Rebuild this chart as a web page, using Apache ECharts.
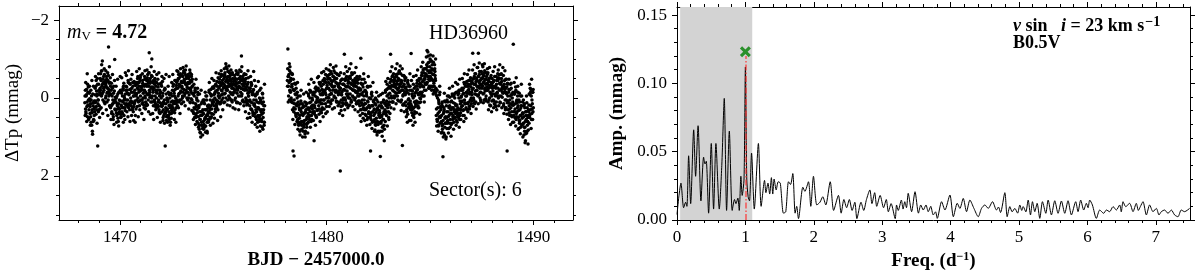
<!DOCTYPE html>
<html><head><meta charset="utf-8">
<script src="https://cdn.jsdelivr.net/npm/echarts@6/dist/echarts.min.js"></script>
<style>html,body{margin:0;padding:0;background:#fff}#c{width:1200px;height:280px}</style>
</head><body><div id="c"></div>
<script>
// ---------- Light curve (values in 0.01 mmag), three interleaved cadence sets per segment ----------
const seg1Start = 1468.30, seg1End = 1477.00;
const seg1Vals = [
12,-20,35,-8,22,48,-15,5,30,-30,
40,15,62,-5,30,93,20,55,8,35,
-25,10,-45,30,-10,123,5,-35,20,-15,
-50,-10,-69,-30,-95,5,-40,-20,-60,15,
-35,-5,-55,10,-25,-45,-131,-15,20,-40,
25,-20,40,-5,15,55,-30,10,-99,30,
30,0,45,20,-10,60,25,5,40,-20,
-15,20,35,-5,10,-30,45,0,25,-10,
-30,15,-20,5,-45,25,-10,30,-35,0,
20,-25,10,-40,35,-5,15,-20,45,-10,
-40,5,-25,-55,10,-30,20,-45,-5,-20,
-30,15,-45,0,-20,25,-55,-5,10,-35,
-45,-10,-60,5,-30,-116,-15,-50,10,-25,
-100,-5,-40,20,-25,5,-50,15,-30,0,
25,-20,10,-35,30,-5,40,-15,20,-30,
35,-5,50,15,-20,40,123,25,-10,30,
45,10,-15,35,55,0,25,-10,40,20,
-20,25,-35,10,-5,30,-45,15,-25,5,
-45,-5,-60,10,-30,-55,-15,5,-40,-25,
-55,-15,-70,-5,-40,-60,-20,-50,0,-35,
-40,0,-55,-25,10,-45,-15,-60,5,-30,
35,-10,25,50,-20,15,45,0,30,-15,
65,20,80,35,55,100,15,45,70,30,
60,10,75,30,50,-5,45,85,20,55,
35,-15,25,50,-10,20,40,-25,15,5,
-25,20,-10,35,-35,5,25,-20,10,-5,
-40,0,-30,15,-55,-20,5,-45,-10,-25,
-50,-10,-65,-30,0,-45,-75,-20,-55,-5,
-45,0,-35,-60,-10,-30,10,-50,-25,-15,
-35,5,-50,-20,-40,10,-25,-60,-5,-30,
-40,-5,-55,-25,-108,-10,-45,5,-30,-60,
-35,10,-25,-50,5,-20,15,-40,-5,-15,
20,-25,10,-40,30,-10,35,-20,5,15,
40,-5,30,55,10,-15,45,25,60,0,
45,5,35,60,15,-10,50,30,70,20
];
const seg1ValsB = [
-5,28,40,-22,10,-35,18,55,-12,2,
22,48,5,70,38,-10,60,28,45,12,
8,-30,22,-5,-50,15,35,-20,-8,28,
-20,-45,-5,-70,-35,-15,-55,10,-28,-42,
0,-30,-48,-12,-65,5,-22,-38,-8,-52,
-10,20,35,-25,5,48,12,-18,28,-2,
10,38,-5,28,52,15,-15,35,8,42,
18,-12,8,40,-25,25,-5,15,32,-20,
5,-28,-12,22,-40,-8,18,-22,10,-48,
-15,12,30,-30,-5,22,-38,8,-12,28,
-10,-35,-50,0,-22,-40,8,-18,-58,-28,
-22,5,-38,-12,18,-30,-48,0,-15,20,
-30,-52,-8,-38,-65,-20,-2,-42,-28,-58,
10,-28,-15,-45,8,-35,-5,22,-20,-40,
-12,18,-28,5,35,-20,12,-38,0,22,
20,-12,30,45,5,-25,38,15,58,0,
28,5,50,20,-8,40,62,10,32,-5,
8,-30,15,-12,38,-22,0,25,-40,10,
-25,-50,-10,-35,5,-62,-18,-42,-30,0,
-40,-65,-22,-48,-10,-72,-35,-55,-28,-15,
-25,-50,-8,-38,-65,-20,2,-42,-30,-12,
12,40,-5,28,-25,50,20,5,38,-8,
48,25,70,55,90,35,62,10,78,42,
40,68,15,52,88,30,5,62,45,25,
18,-20,38,5,52,-5,28,10,-28,42,
10,-30,0,28,-18,15,-42,8,30,-12,
-25,-48,-5,-32,10,-60,-18,-38,0,-28,
-35,-60,-12,-42,-80,-25,-50,5,-38,-68,
-30,-55,-15,5,-42,-25,-65,-8,-35,-48,
-22,-45,0,-30,-62,-12,-38,12,-28,-50,
-28,-50,-15,-68,-5,-35,-48,-22,10,-40,
-20,-42,0,-28,18,-35,-12,-52,8,-25,
5,-18,28,-32,12,-8,40,-22,18,-45,
22,48,5,35,-10,62,28,12,50,-20,
30,55,10,42,75,0,38,20,62,8
];
const seg1ValsC = [
45,-40,-5,60,-62,20,-28,52,-15,8,
70,-20,38,-45,85,12,-30,58,25,-8,
-55,42,-18,65,-35,5,-62,30,50,-25,
-62,25,-85,-10,40,-48,-25,-75,10,-38,
-70,30,-42,-15,45,-58,-5,-80,22,-30,
55,-38,18,-60,42,-12,68,-45,5,30,
-30,62,15,-48,40,72,-15,28,-55,50,
48,-52,25,-20,62,-38,5,55,-65,18,
-58,35,-12,48,-70,15,-38,60,-22,8,
45,-60,25,-15,58,-42,12,62,-32,-5,
-68,22,-40,48,-15,-75,30,-52,5,-28,
40,-62,12,-35,55,-20,-70,28,-48,15,
-72,18,-45,35,-65,-8,-38,42,-80,0,
-55,40,-20,55,-68,10,-42,30,-15,-60,
50,-48,22,-65,38,-10,62,-35,15,-55,
-42,58,10,-50,65,-22,35,-60,48,5,
62,-30,45,-55,18,70,-12,52,-40,28,
-60,35,-18,55,-45,8,62,-32,-70,20,
-68,25,-50,-12,40,-75,-30,15,-58,-5,
-78,10,-45,-65,20,-35,-82,-15,-55,5,
-60,28,-40,-72,12,-25,-55,32,-48,-10,
55,-35,40,-15,68,-48,22,60,-25,8,
75,20,-10,88,45,-20,70,35,95,5,
80,5,55,-15,72,30,-5,90,40,62,
58,-40,30,70,-22,48,-50,15,65,-8,
-45,52,-15,35,-65,20,-30,58,-52,10,
-62,15,-40,48,-70,-8,-35,30,-58,12,
-75,10,-55,-88,-20,-45,18,-68,-30,-82,
-65,20,-48,-72,5,-35,-60,25,-42,-15,
-58,28,-35,-70,12,-48,-20,-65,30,-40,
-72,15,-45,-25,-80,8,-55,-35,20,-62,
-48,35,-60,10,-30,52,-70,-5,40,-25,
50,-55,28,-35,62,-15,45,-68,18,-8,
68,-30,50,-10,75,25,-42,58,12,85,
72,-25,55,30,-12,80,10,62,-35,48
];
const seg2Start = 1478.10, seg2End = 1490.00;
const seg2Vals = [
-45,-126,-30,-60,5,-80,-15,-50,10,-35,
30,136,-20,149,15,-10,40,-25,20,0,
55,10,70,25,45,-5,65,35,80,15,
60,20,75,40,10,85,30,55,15,65,
40,-10,30,55,0,25,-15,45,20,5,
35,-15,110,20,-5,45,10,-20,30,0,
-25,20,-40,10,-10,35,-30,5,25,-15,
-35,5,-50,-20,15,-40,0,-25,-55,10,
-40,0,-60,-20,10,-45,-10,-30,5,-55,
-45,-5,-30,-65,0,-20,-50,10,-35,-15,
-30,15,-20,187,-45,5,-15,20,-35,0,
-35,-112,-20,5,-50,-10,15,-30,-45,0,
-40,0,-55,-25,10,-35,-60,-5,-20,-45,
-35,5,-50,-15,-30,10,-45,-5,-25,15,
-25,20,-10,-102,30,-35,5,-15,25,-5,
30,-20,15,45,-10,25,-30,10,40,0,
40,0,136,55,20,-5,35,60,10,30,
55,15,70,35,5,60,25,85,40,20,
50,150,65,20,45,75,10,55,35,80,
30,-15,20,45,-5,15,-25,35,0,10,
-40,-112,-30,0,-55,-20,10,-45,-5,-35,
-45,-5,-60,-25,-35,5,-50,-15,-70,-30,
-35,10,-45,-20,122,-5,-30,15,-55,-15,
-25,20,-15,35,-40,5,25,-10,15,-30,
30,-114,20,-10,45,0,25,-25,35,10,
-30,15,-20,-45,10,-10,25,-35,0,-15,
-50,-10,-65,-30,-5,-45,-75,-20,-55,-35,
-75,-35,-122,-55,-90,-25,-65,-45,-100,-30,
-65,-20,-85,-45,-10,-60,-30,-75,-50,-15,
45,-5,60,25,70,10,35,-15,50,30,
60,15,80,151,40,25,95,50,10,65,
50,5,65,35,-5,45,20,75,10,30,
40,-10,55,25,-5,35,0,50,20,-15,
35,-15,25,50,0,-20,45,15,30,-5,
-25,20,-10,30,-40,5,15,-30,25,-5,
-30,15,-20,-45,10,-10,20,-35,0,-15,
-40,-115,-25,5,-55,-10,-35,10,-50,-20,
-45,-5,-115,-30,-60,0,-35,-15,-50,-25,
-50,-10,-40,5,-65,-25,-35,-5,-55,-20,
-35,10,-25,-50,0,-15,20,-40,-5,-30,
-40,5,-30,15,-55,-10,-25,10,-45,-5,
-45,0,-60,-20,10,-35,-5,-50,-25,-15,
-30,20,-15,-45,5,-25,25,-10,136,-35,
30,-15,20,45,-5,15,-25,35,0,10,
-138,35,-10,50,15,-20,40,5,25,-15,
50,5,65,30,-5,45,20,70,10,40,
65,20,85,115,35,55,90,25,60,45,
35,-10,50,-25,20,-5,40,15,-15,25
];
const seg2ValsB = [
-30,-55,-5,-40,-70,-18,-45,0,-28,-62,
12,-22,35,5,-38,28,-8,48,15,-15,
40,65,18,52,85,30,8,60,42,25,
45,70,22,58,92,35,12,68,48,28,
25,-5,48,12,35,-18,60,22,0,38,
18,-8,40,25,-25,12,50,-2,32,8,
10,-18,28,-35,5,-8,38,-22,15,-45,
-20,5,-42,-15,-60,-8,22,-32,-48,-2,
-25,-50,-8,-35,-68,-12,5,-42,-28,-55,
-28,-2,-52,-20,-40,8,-62,-15,-35,-8,
-12,10,-38,-25,22,-8,-48,12,-20,5,
-22,-48,0,-30,12,-55,-18,-5,-38,20,
-28,-55,-10,-38,5,-65,-22,-45,-2,-30,
-20,-45,0,-30,15,-52,-12,-38,8,-25,
8,-20,30,-38,12,-8,40,-28,18,-48,
15,42,-18,28,-5,55,8,-28,35,20,
25,50,2,38,-15,62,20,8,45,28,
40,68,18,52,88,28,10,62,45,32,
38,62,12,48,85,25,55,5,70,40,
12,-20,38,8,-35,25,-8,50,18,-12,
-25,-48,-5,-32,10,-58,-18,-40,0,-28,
-30,-55,-12,-42,-5,-62,-25,-48,-15,-35,
-18,-42,5,-28,-58,-8,18,-35,-12,-50,
10,-28,30,-15,42,-35,2,22,-20,8,
15,-20,38,-5,28,-35,50,10,-12,22,
-15,8,-38,-22,20,-8,-45,12,-28,2,
-35,-58,-15,-42,-72,-28,-5,-50,-38,-62,
-60,-85,-40,-70,-108,-48,-30,-80,-55,-95,
-50,-75,-28,-60,-92,-38,-15,-68,-45,-25,
28,55,0,40,72,15,-8,48,22,62,
45,72,22,58,90,30,8,65,48,100,
35,60,10,48,78,22,-2,55,30,68,
25,-5,48,12,62,30,-12,40,18,58,
18,45,-8,30,-20,55,8,38,-2,22,
8,-20,32,-12,45,-35,15,-5,28,-42,
-12,12,-35,-22,22,-45,5,-28,15,-8,
-22,-48,0,-35,12,-62,-18,-42,-8,-30,
-28,-55,-8,-40,-68,-15,5,-48,-32,-62,
-30,-55,-12,-42,-70,-18,2,-48,-28,-60,
-20,-45,5,-32,18,-52,-10,-35,8,-25,
-18,-42,8,-28,-55,-5,22,-35,-12,-48,
-25,-52,-5,-38,12,-60,-20,-42,-2,-30,
-12,15,-35,-22,25,-48,5,-28,12,-5,
12,-22,38,5,-35,25,-8,48,18,-15,
18,45,-10,28,-28,55,8,35,-5,20,
32,58,10,45,75,20,-5,52,38,65,
48,75,25,60,92,35,12,70,50,82,
18,45,-8,30,-22,55,5,-15,35,12
];
const seg2ValsC = [
-75,10,-55,-88,-20,-45,-65,5,-30,-60,
55,-48,25,-20,68,-35,45,-10,60,-40,
80,-5,62,30,95,15,-20,70,42,100,
85,-10,65,38,100,20,-15,75,50,90,
62,-35,45,-20,75,10,-48,55,28,-8,
58,-40,35,-15,70,-28,48,5,-52,30,
-55,42,-18,60,-40,15,-65,30,-8,48,
-68,28,-45,-12,40,-75,-25,35,-58,8,
-72,22,-50,-85,15,-35,-62,28,-20,-78,
-70,25,-48,-15,-82,10,-38,-60,20,-28,
-58,40,-25,-65,32,-8,-48,45,-35,15,
-62,30,-45,-80,18,-28,-68,25,-10,-52,
-75,18,-50,-88,10,-35,-62,22,-42,-20,
-65,30,-40,-78,15,-55,-18,35,-48,-5,
-55,45,-22,60,-48,18,-35,52,-62,5,
58,-40,30,-15,70,-28,50,-55,20,38,
68,-30,45,-10,78,20,-40,60,5,85,
82,0,62,-15,95,30,68,-5,88,45,
85,-8,60,25,98,-12,72,40,110,15,
60,-42,35,-22,72,-50,18,55,-30,40,
-68,25,-45,-80,10,-30,-62,28,-52,-15,
-75,15,-55,-88,-22,-45,8,-68,-35,-82,
-62,32,-40,-75,18,-20,-58,35,-45,-8,
-52,48,-20,62,-45,15,-30,58,-62,25,
58,-45,30,-18,70,-55,42,-5,62,15,
-58,38,-30,-72,25,-12,-50,42,-38,10,
-80,-5,-58,-92,-30,-65,10,-48,-75,-20,
-105,-40,-80,-118,-55,-92,-25,-70,-110,-48,
-95,-30,-72,-108,-45,-20,-85,-58,-100,-8,
72,-20,55,85,5,48,-30,65,25,90,
88,10,68,100,35,-12,75,52,105,20,
78,-5,58,90,25,-25,65,40,98,8,
65,-30,45,80,-8,52,15,-40,70,30,
62,-35,40,-12,75,-48,28,55,-20,10,
-50,45,-25,60,-62,12,-38,52,-15,30,
-60,35,-30,-72,28,-15,-52,40,-42,8,
-72,22,-50,-85,15,-35,-62,28,-20,-78,
-78,15,-55,-90,-25,-45,10,-68,-35,-85,
-80,12,-58,-88,-22,-48,8,-65,-38,-75,
-65,30,-42,-78,20,-28,-58,35,-50,-10,
-68,25,-45,-80,18,-30,-55,30,-15,-62,
-72,20,-50,-85,12,-38,-62,25,-25,-78,
-58,40,-28,-70,30,-15,-48,42,-38,8,
55,-48,28,-22,68,-38,45,-10,62,18,
62,-40,35,-15,72,-52,48,12,-30,80,
78,-12,58,92,25,-35,68,40,100,5,
95,15,75,110,45,-5,85,60,118,30,
65,-35,42,-15,78,-48,28,55,-22,12
];

// ---------- Periodogram ----------
const freq = [0.000,0.058,0.097,0.126,0.145,0.170,0.200,0.244,0.272,0.308,0.350,0.389,0.410,0.428,0.462,0.501,0.535,0.569,0.618,0.655,0.691,0.725,0.765,0.807,0.841,0.862,0.890,0.910,0.934,0.953,0.980,1.000,1.020,1.040,1.060,1.090,1.130,1.190,1.230,1.280,1.300,1.330,1.355,1.380,1.400,1.420,1.450,1.480,1.510,1.556,1.590,1.630,1.660,1.693,1.727,1.750,1.776,1.840,1.870,1.922,1.956,1.995,2.044,2.090,2.131,2.175,2.240,2.290,2.360,2.400,2.440,2.480,2.520,2.560,2.600,2.630,2.690,2.730,2.770,2.820,2.850,2.890,2.920,2.970,3.020,3.060,3.090,3.130,3.190,3.210,3.235,3.280,3.305,3.330,3.355,3.380,3.430,3.480,3.530,3.564,3.600,3.640,3.673,3.710,3.746,3.780,3.805,3.868,3.917,3.990,4.040,4.097,4.136,4.185,4.233,4.282,4.341,4.404,4.452,4.501,4.550,4.613,4.670,4.700,4.730,4.793,4.827,4.866,4.900,4.939,4.980,5.012,5.040,5.061,5.100,5.134,5.168,5.197,5.231,5.265,5.304,5.343,5.392,5.426,5.474,5.523,5.571,5.620,5.669,5.717,5.766,5.829,5.863,5.902,5.946,5.985,6.010,6.034,6.073,6.131,6.180,6.238,6.277,6.326,6.375,6.423,6.472,6.495,6.521,6.560,6.618,6.667,6.715,6.745,6.774,6.813,6.862,6.910,6.959,7.008,7.047,7.081,7.129,7.178,7.227,7.275,7.324,7.372,7.421,7.494];
const amp = [0.004,0.027,0.009,0.013,0.010,0.047,0.012,0.066,0.032,0.069,0.014,0.046,0.041,0.043,0.005,0.056,0.008,0.056,0.008,0.040,0.089,0.007,0.065,0.007,0.015,0.012,0.016,0.007,0.032,0.018,0.030,0.112,0.030,0.017,0.014,0.049,0.008,0.056,0.010,0.029,0.020,0.027,0.019,0.031,0.019,0.030,0.022,0.028,0.027,0.005,0.006,0.028,0.026,0.034,0.005,0.010,0.001,0.024,0.021,0.028,0.010,0.032,0.011,0.013,0.017,0.011,0.028,0.007,0.018,0.005,0.015,0.009,0.015,0.007,0.013,0.001,0.013,0.007,0.015,0.022,0.012,0.020,0.010,0.018,0.009,0.015,0.006,0.012,0.001,0.011,0.007,0.0146,0.008,0.0134,0.009,0.0195,0.0061,0.0207,0.005,0.011,0.0073,0.011,0.0061,0.010,0.0037,0.006,0.0012,0.0134,0.0073,0.0183,0.0024,0.0122,0.0085,0.0158,0.0061,0.0146,0.0085,0.0024,0.0085,0.011,0.0085,0.0134,0.0073,0.0095,0.0055,0.020,0.0024,0.0098,0.006,0.0085,0.005,0.011,0.007,0.0098,0.006,0.0146,0.0037,0.0134,0.0061,0.0122,0.0012,0.0134,0.0049,0.0146,0.0037,0.0141,0.0049,0.0139,0.0049,0.0141,0.0037,0.0134,0.0061,0.0146,0.0073,0.0122,0.009,0.0146,0.011,0.0012,0.0073,0.0049,0.0073,0.0061,0.0098,0.0073,0.011,0.006,0.0134,0.0098,0.0122,0.0061,0.0122,0.007,0.0098,0.0134,0.0037,0.011,0.0061,0.0085,0.0037,0.0061,0.0073,0.0049,0.0073,0.0037,0.0024,0.0073,0.0061,0.0085];
const peakFreq = 1.0, peakMarkAmp = 0.1232;
const shadeRange = [0.046, 1.10];

// ---------- Ticks ----------
const lcXMajor = [1470, 1480, 1490];
const lcYMajor = [-2, 0, 2];
const pgXMajor = [0, 1, 2, 3, 4, 5, 6, 7];
const pgYMajor = [0, 0.05, 0.10, 0.15];

const SERIF = '"Liberation Serif", "DejaVu Serif", serif';
function range(a, b, s) { const r = []; for (let v = a; v <= b + 1e-9; v += s) r.push(+v.toFixed(4)); return r; }
const lcXMinor = range(1468, 1491, 1);
const lcYMinor = range(-2, 3, 0.5);
const pgXMinor = range(0, 7.4, 0.2);
const pgYMinor = range(0, 0.15, 0.01);

// cadence grid: set k of 3 sits at offset k/3 of a step
function lcPoints(start, end, vals, k) {
  const n = vals.length, dt = (end - start) / (n - 1);
  return vals.map((v, i) => [start + (i + k / 3) * dt, v / 100]).filter(p => p[0] <= end);
}

function axisSet(grid, pos1, pos2, min, max, majors, minors, extra, main) {
  const mk = (pos, ticks, len, line, labels) => Object.assign({
    type: 'value', gridIndex: grid, position: pos, min: min, max: max, offset: 0,
    splitLine: { show: false },
    axisLine: { show: line, onZero: false, lineStyle: { color: '#000', width: 1 } },
    axisTick: { show: true, inside: false, length: len, customValues: ticks, lineStyle: { color: '#000', width: 1 } },
    axisLabel: labels ? Object.assign({ show: true, customValues: majors, color: '#000', fontFamily: SERIF, fontSize: 17 }, labels) : { show: false },
    axisPointer: { show: false }
  }, extra || {});
  const first = Object.assign(mk(pos1, majors, 5, true, main.label), main.name || {});
  return [first, mk(pos1, minors, 3, false, null), mk(pos2, majors, 5, true, null), mk(pos2, minors, 3, false, null)];
}

const nameStyle = { color: '#000', fontFamily: SERIF, fontSize: 19, fontWeight: 'bold' };

const xAxes = [].concat(
  axisSet(0, 'bottom', 'top', 1467.05, 1491.92, lcXMajor, lcXMinor, null, {
    label: { margin: 9, formatter: v => String(v) },
    name: { name: 'BJD − 2457000.0', nameLocation: 'middle', nameGap: 31, nameTextStyle: nameStyle }
  }),
  axisSet(1, 'bottom', 'top', 0, 7.5, pgXMajor, pgXMinor, null, {
    label: { margin: 9, formatter: v => String(v) },
    name: { name: 'Freq. (d{sup|−1})', nameLocation: 'middle', nameGap: 31,
      nameTextStyle: Object.assign({}, nameStyle, { rich: { sup: { fontFamily: SERIF, fontSize: 12, fontWeight: 'bold', verticalAlign: 'top', padding: [0, 0, 8, 0] } } }) }
  })
);
const yAxes = [].concat(
  axisSet(0, 'left', 'right', -2.36, 3.13, lcYMajor, lcYMinor, { inverse: true }, {
    label: { margin: 10, formatter: v => String(v).replace('-', '−') },
    name: { name: 'ΔTp (mmag)', nameLocation: 'middle', nameGap: 36, nameRotate: 90,
      nameTextStyle: Object.assign({}, nameStyle, { fontWeight: 'normal' }) }
  }),
  axisSet(1, 'left', 'right', 0, 0.1559, pgYMajor, pgYMinor, null, {
    label: { margin: 10, formatter: v => v.toFixed(2) },
    name: { name: 'Amp. (mmag)', nameLocation: 'middle', nameGap: 50, nameRotate: 90, nameTextStyle: nameStyle }
  })
);

const Xpath = 'path://M2,0 L5,3 L8,0 L10,2 L7,5 L10,8 L8,10 L5,7 L2,10 L0,8 L3,5 L0,2 Z';

const lcData = [].concat(
  lcPoints(seg1Start, seg1End, seg1Vals, 0), lcPoints(seg1Start, seg1End, seg1ValsB, 1), lcPoints(seg1Start, seg1End, seg1ValsC, 2),
  lcPoints(seg2Start, seg2End, seg2Vals, 0), lcPoints(seg2Start, seg2End, seg2ValsB, 1), lcPoints(seg2Start, seg2End, seg2ValsC, 2));

const option = {
  animation: false,
  backgroundColor: '#fff',
  grid: [
    { left: 59, top: 6, width: 514, height: 214 },
    { left: 677, top: 7, width: 513, height: 213 }
  ],
  xAxis: xAxes,
  yAxis: yAxes,
  series: [
    { type: 'scatter', xAxisIndex: 0, yAxisIndex: 0, symbolSize: 3.5, itemStyle: { color: '#000', opacity: 1 },
      data: lcData, silent: true, large: false },
    { type: 'line', xAxisIndex: 4, yAxisIndex: 4, showSymbol: false, smooth: 0.25,
      lineStyle: { color: '#000', width: 1 }, data: freq.map((f, i) => [f, amp[i]]), silent: true,
      markArea: { silent: true, itemStyle: { color: '#d3d3d3', opacity: 1 },
        data: [[{ xAxis: shadeRange[0] }, { xAxis: shadeRange[1] }]] },
      markLine: { silent: true, symbol: 'none', label: { show: false },
        lineStyle: { color: 'rgba(255,40,40,0.75)', type: [6, 2, 1.5, 2], width: 1.5 },
        data: [[{ coord: [peakFreq, 0] }, { coord: [peakFreq, 0.12] }]] } },
    { type: 'scatter', xAxisIndex: 4, yAxisIndex: 4, symbol: Xpath, symbolSize: 11,
      itemStyle: { color: '#008000' }, data: [[peakFreq, peakMarkAmp]], silent: true, z: 5 }
  ],
  graphic: [
    { type: 'text', left: 67, top: 23, style: { text: '{i|m}{s|V} = 4.72', fill: '#000',
      rich: { i: { fontFamily: SERIF, fontSize: 20, fontStyle: 'italic' },
              s: { fontFamily: SERIF, fontSize: 13, verticalAlign: 'bottom', padding: [8, 0, 0, 0] } },
      font: 'bold 20px ' + SERIF } },
    { type: 'text', left: 429, top: 24, style: { text: 'HD36960', fill: '#000', font: '20px ' + SERIF } },
    { type: 'text', left: 429, top: 181, style: { text: 'Sector(s): 6', fill: '#000', font: '20px ' + SERIF } },
    { type: 'text', left: 1013, top: 15, style: { text: '{it|v} sin   {it|i} = 23 km s{sup|−1}', fill: '#000',
      font: 'bold 18px ' + SERIF,
      rich: { it: { fontFamily: SERIF, fontSize: 18, fontStyle: 'italic', fontWeight: 'bold' },
              sup: { fontFamily: SERIF, fontSize: 14, fontWeight: 'bold', verticalAlign: 'top', padding: [0, 0, 8, 1] } } } },
    { type: 'text', left: 1013, top: 34, style: { text: 'B0.5V', fill: '#000', font: 'bold 18px ' + SERIF } }
  ]
};
echarts.init(document.getElementById('c'), null, { renderer: 'canvas' }).setOption(option);
</script></body></html>
